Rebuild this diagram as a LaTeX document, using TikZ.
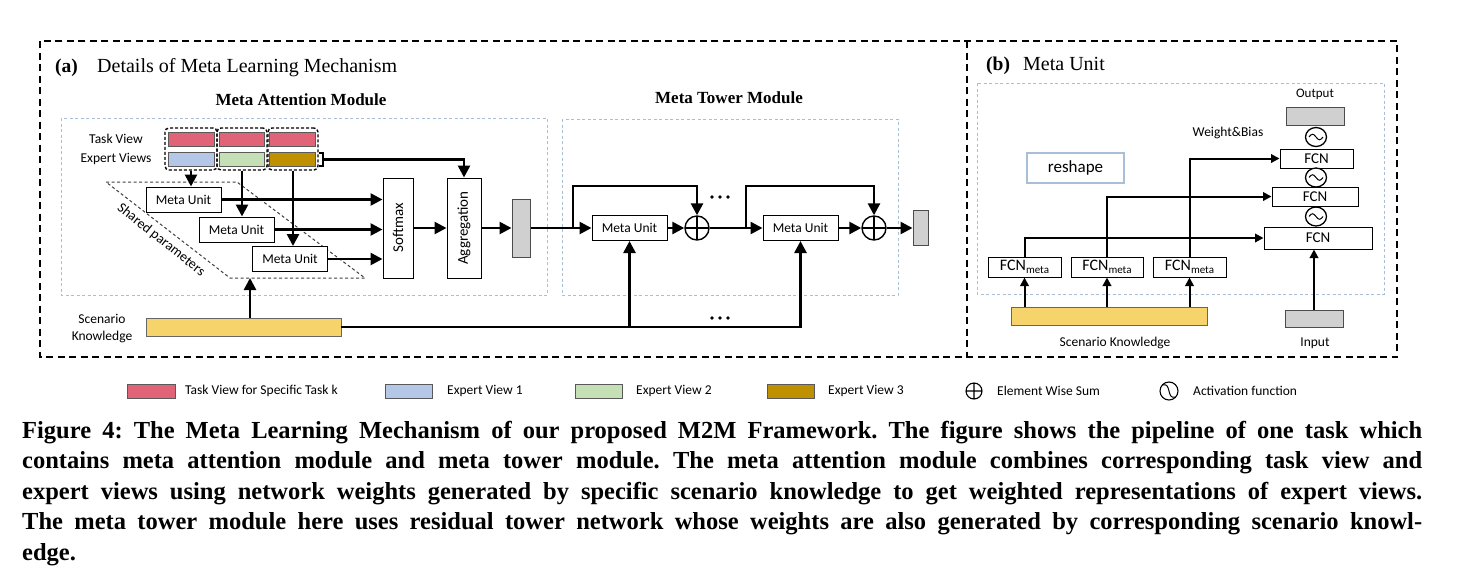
\documentclass[tikz,border=0pt]{standalone}
\usepackage{fontspec}
\setmainfont{Liberation Serif}
\newfontfamily\cali{Carlito}
\newfontfamily\capfont{Liberation Serif}
\usetikzlibrary{arrows.meta,calc}
\definecolor{tred}{HTML}{E06377}
\definecolor{eblue}{HTML}{B4C7E7}
\definecolor{egreen}{HTML}{C5E0B4}
\definecolor{egold}{HTML}{BF9000}
\definecolor{syel}{HTML}{F7D46B}
\definecolor{lblue}{HTML}{A9BFD8}
\definecolor{gfill}{HTML}{D0D0D0}
\newcommand\fs[1]{\fontsize{#1}{#1}\selectfont}
\begin{document}
\begin{tikzpicture}[x=1pt,y=-1pt,
  sz/.style 2 args={minimum width=#1pt,minimum height=#2pt},
  outerdash/.style={line width=1.6pt,dash pattern=on 7pt off 4.5pt},
  bluedash/.style={draw=lblue,line width=0.9pt,dash pattern=on 3pt off 2.5pt},
  rbox/.style={draw,line width=1pt,fill=white,inner sep=0pt,font=\cali\fs{13.5}},
  bar/.style={draw=black!65,line width=0.7pt,inner sep=0pt},
  grp/.style={draw,line width=1.4pt,rounded corners=4pt,dash pattern=on 3pt off 2pt,inner sep=0pt},
  gbox/.style={draw=black!70,line width=1pt,fill=gfill,inner sep=0pt},
  ybar/.style={draw=black!60,line width=0.8pt,fill=syel,inner sep=0pt},
  sumc/.style={draw,circle,line width=1.4pt,minimum size=24pt,inner sep=0pt,
    path picture={\draw[line width=1.2pt] (path picture bounding box.north)--(path picture bounding box.south)
      (path picture bounding box.west)--(path picture bounding box.east);}},
  arr/.style={line width=2.6pt,-{Triangle[length=12pt,width=12pt]}},
  arrb/.style={line width=2pt,-{Triangle[length=8.5pt,width=8.5pt]}},
  lbl/.style={font=\cali\fs{13.5},inner sep=0pt},
  leg/.style={font=\cali\fs{13.5},inner sep=0pt,anchor=west},
  pdash/.style={draw=black!75,line width=1pt,dash pattern=on 3pt off 2.5pt}
]
\useasboundingbox (0,0) rectangle (1468,582);
\fill[white] (0,0) rectangle (1468,582);

% outer frames
\draw[outerdash] (40,41) rectangle (1397,357);
\draw[outerdash] (967,41) -- (967,357);

% ================= (a) =================
\node[anchor=base west,inner sep=0pt,font=\bfseries\fs{19.5}] (la) at (55,72) {(a)};
\node[anchor=base west,inner sep=0pt,font=\fs{20}] (lat) at (97,72) {Details of Meta Learning Mechanism};
\node[anchor=base,inner sep=0pt,font=\bfseries\fs{17}] (mam) at (301,105) {Meta Attention Module};
\node[anchor=base,inner sep=0pt,font=\bfseries\fs{17}] (mtm) at (729,103) {Meta Tower Module};

\draw[bluedash] (61,118) rectangle (547,295);
\draw[bluedash] (562,119) rectangle (898,295);

\node[lbl] (tvl) at (116,139) {Task View};
\node[lbl] (evl) at (116,159) {Expert Views};

\node[bar,fill=tred,sz={46}{14}] (t1) at (191,139) {};
\node[bar,fill=tred,sz={45}{14}] (t2) at (241.5,139) {};
\node[bar,fill=tred,sz={46}{14}] (t3) at (292,139) {};
\node[bar,fill=eblue,sz={46}{14}] (e1) at (191,159.5) {};
\node[bar,fill=egreen,sz={45}{14}] (e2) at (241.5,159.5) {};
\node[bar,fill=egold,sz={46}{14}] (e3) at (292,159.5) {};
\node[grp,sz={52}{42}] (g1) at (191,149) {};
\node[grp,sz={50}{42}] (g2) at (242,149) {};
\node[grp,sz={50}{42}] (g3) at (293,149) {};
\draw[line width=1.2pt] (319,153) -- (323,153) -- (323,166) -- (319,166);
\coordinate (br) at (323,159.5);

% shared parameters
\draw[pdash] (106,182) -- (237,182) -- (365,278) -- (230,278) -- cycle;
\node[font=\cali\fs{14},rotate=-38.5,inner sep=0pt] (sp) at (161,240) {Shared parameters};

\node[rbox,sz={75}{25}] (mu1) at (183.5,199.5) {Meta Unit};
\node[rbox,sz={75}{25}] (mu2) at (236.5,229.5) {Meta Unit};
\node[rbox,sz={75}{25}] (mu3) at (290,259) {Meta Unit};

\node[rbox,sz={30}{100}] (sm) at (398,228) {};
\node[font=\cali\fs{15},rotate=90,inner sep=0pt] (smt) at (sm.center) {Softmax};
\node[rbox,sz={34}{100}] (agg) at (464,228) {};
\node[font=\cali\fs{15},rotate=90,inner sep=0pt] (aggt) at (agg.center) {Aggregation};
\node[gbox,sz={18}{58}] (ga) at (521,228) {};

\draw[arr] (g1.south) -- (g1.south |- mu1.north);
\draw[arr] (g2.south) -- (g2.south |- mu2.north);
\draw[arr] (g3.south) -- (g3.south |- mu3.north);
\draw[arr] (br) -| (agg.north);
\draw[arr] (mu1.east) -- (mu1.east -| sm.west);
\draw[arr] (mu2.east) -- (mu2.east -| sm.west);
\draw[arr] (mu3.east) -- (mu3.east -| sm.west);
\draw[arr] (sm.east) -- (agg.west);
\draw[arr] (agg.east) -- (agg.east -| ga.west);

% scenario knowledge (a)
\node[lbl,align=center,font=\cali\fontsize{13.5}{17}\selectfont] (skl) at (102,328.5) {Scenario\\Knowledge};
\node[ybar,sz={195}{18}] (y1) at (243.5,327) {};
\coordinate (pb) at (250,278);
\draw[arr] (y1.north -| pb) -- (pb);

% tower
\node[rbox,sz={75}{25}] (mu4) at (629.5,228) {Meta Unit};
\node[rbox,sz={75}{25}] (mu5) at (800.5,228) {Meta Unit};
\node[sumc] (c1) at (697,228) {};
\node[sumc] (c2) at (874,228) {};
\node[gbox,sz={15}{35}] (go) at (920.5,228) {};
\coordinate (s1) at (573,228);
\coordinate (s1t) at (573,186);
\coordinate (s2) at (746,228);
\coordinate (s2t) at (746,186);

\draw[arr] (ga.east) -- (mu4.west);
\draw[arr] (s1) -- (s1t) -| (c1.north);
\draw[arr] (mu4.east) -- (c1.west);
\draw[arr] (c1.east) -- (mu5.west);
\draw[arr] (s2) -- (s2t) -| (c2.north);
\draw[arr] (mu5.east) -- (c2.west);
\draw[arr] (c2.east) -- (go.west);
\draw[arr] (y1.east) -| (mu5.south);
\draw[arr] (mu4.south |- y1.east) -- (mu4.south);
\foreach \dx in {-8,0,8} {
  \fill (720+\dx,197) circle (1.9pt);
  \fill (720+\dx,318) circle (1.9pt);
}

% ================= (b) =================
\node[anchor=base west,inner sep=0pt,font=\bfseries\fs{19.5}] (lb) at (986,70) {(b)};
\node[anchor=base west,inner sep=0pt,font=\fs{20}] (lbt) at (1023,70) {Meta Unit};
\draw[bluedash] (977,83) rectangle (1384,294);

\node[lbl,font=\cali\fs{13}] (outl) at (1315,94) {Output};
\node[gbox,sz={58}{18}] (gob) at (1315,116) {};
\node[rbox,font=\cali\fs{15},sz={73}{19}] (f1) at (1316.5,158.5) {FCN};
\node[rbox,font=\cali\fs{15},sz={86}{19}] (f2) at (1315,196.5) {FCN};
\node[rbox,font=\cali\fs{15},sz={108}{22}] (f3) at (1318,238) {FCN};
\foreach \yy in {137,177.5,216.5} {
  \draw[line width=1.3pt,fill=white] (1316,\yy) ellipse (10.5pt and 9.5pt);
  \draw[line width=1pt] (1309,\yy) sin (1312.5,\yy-2.8) cos (1316,\yy) sin (1319.5,\yy+2.8) cos (1323,\yy);
}
\node[lbl,font=\cali\fs{13.5}] (wb) at (1228,133) {Weight\&Bias};
\node[draw=lblue,line width=1.2pt,inner sep=0pt,sz={97}{30},font=\cali\fs{17}] (rs) at (1075.5,168) {reshape};

\node[rbox,font=\cali\fs{16},sz={73}{20}] (fm1) at (1024.5,267) {FCN\raisebox{-3.5pt}{\fs{11}meta}};
\node[rbox,font=\cali\fs{16},sz={72}{20}] (fm2) at (1107,267) {FCN\raisebox{-3.5pt}{\fs{11}meta}};
\node[rbox,font=\cali\fs{16},sz={73}{20}] (fm3) at (1189.5,267) {FCN\raisebox{-3.5pt}{\fs{11}meta}};
\node[ybar,sz={196}{18}] (yb) at (1109,316) {};
\node[gbox,sz={58}{17}] (inb) at (1314,318.5) {};
\node[lbl] (skb) at (1115,343) {Scenario Knowledge};
\node[lbl] (inl) at (1315,343) {Input};

\draw[arrb] (fm1.north) -- (fm1.north |- f3.west) -- (f3.west);
\draw[arrb] (fm2.north) -- (fm2.north |- f2.west) -- (f2.west);
\draw[arrb] (fm3.north) -- (fm3.north |- f1.west) -- (f1.west);
\draw[arrb] (yb.north -| fm1.south) -- (fm1.south);
\draw[arrb] (yb.north -| fm2.south) -- (fm2.south);
\draw[arrb] (yb.north -| fm3.south) -- (fm3.south);
\draw[arrb] (inb.north) -- (inb.north |- f3.south);

% ================= legend =================
\node[bar,fill=tred,sz={48}{14}] (k1) at (151,391) {};
\node[leg] (k1t) at (185,391) {Task View for Specific Task k};
\node[bar,fill=eblue,sz={47}{14}] (k2) at (408.5,391) {};
\node[leg] (k2t) at (447,391) {Expert View 1};
\node[bar,fill=egreen,sz={47}{14}] (k3) at (598.5,391) {};
\node[leg] (k3t) at (636,391) {Expert View 2};
\node[bar,fill=egold,sz={47}{14}] (k4) at (790.5,391) {};
\node[leg] (k4t) at (828,391) {Expert View 3};
\draw[line width=1.1pt] (974,391) circle (8pt) (974,383) -- (974,399) (966,391) -- (982,391);
\node[leg] (k5t) at (997,391) {Element Wise Sum};
\draw[line width=1.1pt] (1169,391) circle (9pt);
\draw[line width=1pt] (1163,385) .. controls (1171,382) and (1167,400) .. (1175,397);
\node[leg] (k6t) at (1193,391) {Activation function};

% ================= caption =================
\node[anchor=north west,inner sep=0pt,text width=1400pt,align=justify,
  font=\capfont\bfseries\fontsize{24.5}{30.4}\selectfont\frenchspacing] (cap) at (22,421)
{Figure 4: The Meta Learning Mechanism of our proposed M2M Framework. The figure shows the pipeline of one task which\linebreak
contains meta attention module and meta tower module. The meta attention module combines corresponding task view and\linebreak
expert views using network weights generated by specific scenario knowledge to get weighted representations of expert views.\linebreak
The meta tower module here uses residual tower network whose weights are also generated by corresponding scenario knowl-\linebreak
edge.};
\end{tikzpicture}
\end{document}
